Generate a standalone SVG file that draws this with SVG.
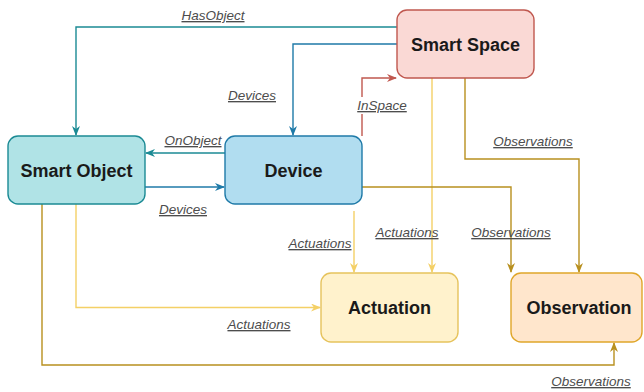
<svg xmlns="http://www.w3.org/2000/svg" width="644" height="392" viewBox="0 0 644 392">
<style>
.node text{font-family:"Liberation Sans",Arial,sans-serif;font-weight:bold;font-size:18px;fill:#1a1a1a;text-anchor:middle}
.lbl{font-family:"Liberation Sans",Arial,sans-serif;font-style:italic;font-size:13.5px;fill:#4d4d4d;text-anchor:middle;text-decoration:underline}
.e{fill:none;stroke-width:1.4}
.teal{stroke:#1b8a94}
.blue{stroke:#1f7aa8}
.red{stroke:#c0584f}
.ly{stroke:#f4d066}
.dg{stroke:#b8901f}
.bg{fill:#ffffff}
</style>
<defs>
<marker id="aT" viewBox="0 0 10 8" refX="9" refY="4" markerWidth="10" markerHeight="8" markerUnits="userSpaceOnUse" orient="auto"><path d="M0,0 L10,4 L0,8 L3,4 z" fill="#1b8a94"/></marker>
<marker id="aB" viewBox="0 0 10 8" refX="9" refY="4" markerWidth="10" markerHeight="8" markerUnits="userSpaceOnUse" orient="auto"><path d="M0,0 L10,4 L0,8 L3,4 z" fill="#1f7aa8"/></marker>
<marker id="aR" viewBox="0 0 10 8" refX="9" refY="4" markerWidth="10" markerHeight="8" markerUnits="userSpaceOnUse" orient="auto"><path d="M0,0 L10,4 L0,8 L3,4 z" fill="#c0584f"/></marker>
<marker id="aY" viewBox="0 0 10 8" refX="9" refY="4" markerWidth="10" markerHeight="8" markerUnits="userSpaceOnUse" orient="auto"><path d="M0,0 L10,4 L0,8 L3,4 z" fill="#f4d066"/></marker>
<marker id="aG" viewBox="0 0 10 8" refX="9" refY="4" markerWidth="10" markerHeight="8" markerUnits="userSpaceOnUse" orient="auto"><path d="M0,0 L10,4 L0,8 L3,4 z" fill="#b8901f"/></marker>
</defs>
<rect width="644" height="392" fill="#ffffff"/>
<g id="connectors">
<path class="e teal" d="M397,27 H76 V135" marker-end="url(#aT)"/>
<path class="e blue" d="M397,44 H293 V135" marker-end="url(#aB)"/>
<path class="e teal" d="M225,153 H146" marker-end="url(#aT)"/>
<path class="e blue" d="M145,187 H224" marker-end="url(#aB)"/>
<path class="e red" d="M362,136 V78 H396" marker-end="url(#aR)"/>
<path class="e ly" d="M432,78 V272" marker-end="url(#aY)"/>
<path class="e dg" d="M465,78 V159 H579 V272" marker-end="url(#aG)"/>
<path class="e dg" d="M362,187 H511 V272" marker-end="url(#aG)"/>
<path class="e ly" d="M354,211 V272" marker-end="url(#aY)"/>
<path class="e ly" d="M76,204 V307.5 H320" marker-end="url(#aY)"/>
<path class="e dg" d="M42,204 V365 H614 V343" marker-end="url(#aG)"/>
<rect class="bg" x="356" y="97" width="52" height="17"/>
<text class="lbl" x="213" y="20">HasObject</text>
<text class="lbl" x="252" y="100">Devices</text>
<text class="lbl" x="193" y="145">OnObject</text>
<text class="lbl" x="183" y="214">Devices</text>
<text class="lbl" x="382" y="110">InSpace</text>
<text class="lbl" x="533" y="146">Observations</text>
<text class="lbl" x="407" y="237">Actuations</text>
<text class="lbl" x="511" y="237">Observations</text>
<text class="lbl" x="320" y="248">Actuations</text>
<text class="lbl" x="259" y="329">Actuations</text>
<text class="lbl" x="591" y="386">Observations</text>
</g>
<g id="smart-space" class="node">
<rect x="397" y="10" width="137" height="68" rx="10" fill="#fad9d5" stroke="#c0584f" stroke-width="1.4"/>
<text x="465.5" y="50.5">Smart Space</text>
</g>
<g id="smart-object" class="node">
<rect x="8" y="136" width="137" height="68" rx="10" fill="#b0e3e6" stroke="#1b8a94" stroke-width="1.4"/>
<text x="76.5" y="176.5">Smart Object</text>
</g>
<g id="device" class="node">
<rect x="225" y="136" width="137" height="68" rx="10" fill="#b1ddf0" stroke="#1f7aa8" stroke-width="1.4"/>
<text x="293.5" y="176.5">Device</text>
</g>
<g id="actuation" class="node">
<rect x="321" y="273" width="137" height="69" rx="10" fill="#fff2cc" stroke="#e6c35c" stroke-width="1.4"/>
<text x="389.5" y="313.5">Actuation</text>
</g>
<g id="observation" class="node">
<rect x="511" y="273" width="131" height="69" rx="10" fill="#ffe6cc" stroke="#e0a62a" stroke-width="1.4"/>
<text x="579" y="313.5">Observation</text>
</g>
</svg>
